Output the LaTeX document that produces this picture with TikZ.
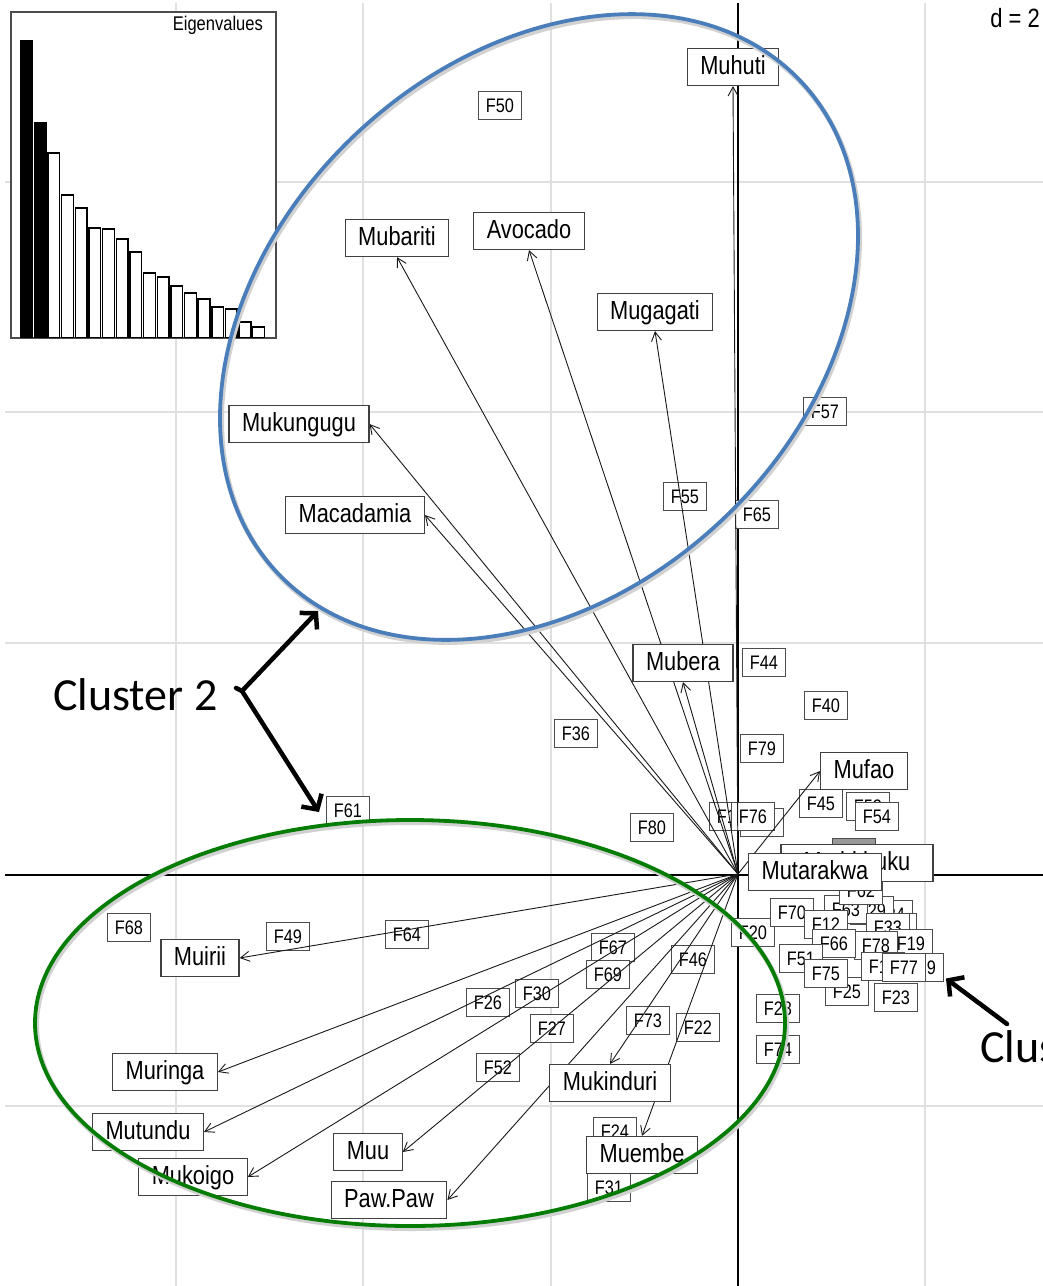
\documentclass[tikz,border=0pt]{standalone}
\usepackage{fontspec}
\setmainfont{Liberation Sans}
\newfontfamily\clfont{Carlito}
\usepackage{graphicx}
\usetikzlibrary{arrows.meta}
\pgfdeclarelayer{bg}
\pgfdeclarelayer{flab}
\pgfdeclarelayer{edges}
\pgfdeclarelayer{fg}
\pgfsetlayers{bg,flab,edges,main,fg}
\newcommand{\vsc}[1]{\scalebox{1}[1.2]{#1}}
\definecolor{ellblue}{RGB}{74,126,187}
\definecolor{ellgreen}{RGB}{5,125,5}
\tikzset{
 gridl/.style={draw=black!12, line width=1.4pt},
 axisl/.style={draw=black, line width=1.3pt},
 flab/.style={draw=black!70, fill=white, line width=1pt, font=\fontsize{16.3}{18}\selectfont, inner sep=0pt, minimum width=43pt, minimum height=28pt, text height=14pt, text depth=0pt},
 vlab/.style={draw=black!75, fill=white, line width=1.2pt, font=\fontsize{21.8}{24}\selectfont, inner xsep=13pt, inner ysep=0pt, minimum height=37pt, text height=19pt, text depth=5pt},
 varrow/.style={draw=black!90, line width=0.9pt, -{Straight Barb[length=9pt,width=10pt]}},
 ellshadow/.style={draw=black!18, line width=5pt},
 clarrow/.style={line width=4.5pt, line cap=round, line join=round},
 cltext/.style={font=\clfont\fontsize{46}{50}\selectfont, inner sep=0pt},
 eigbar/.style={draw=black, line width=1.4pt},
}
\begin{document}
\begin{tikzpicture}[x=1pt,y=-1pt]
\useasboundingbox (0,0) rectangle (1043,1286);
\begin{pgfonlayer}{bg}
\fill[white] (0,0) rectangle (1043,1286);
% grid
\foreach \gx in {176,363,551,925} \draw[gridl] (\gx,3) -- (\gx,1286);
\foreach \gy in {182,412,643,1106} \draw[gridl] (5,\gy) -- (1043,\gy);
% axes
\draw[axisl] (738,3) -- (738,1286);
\draw[axisl] (5,875) -- (1043,875);
% eigenvalue inset
\draw[draw=black!70, fill=white, line width=1.2pt] (11,12) rectangle (276,338);
\foreach \t [count=\i] in {41,123} {
  \pgfmathsetmacro\xl{20.7+(\i-1)*13.65}
  \draw[eigbar, fill=black] (\xl,337.5) rectangle ({\xl+11.7},\t);
}
\foreach \t [count=\i from 3] in {153,195,208,228,229,239,252,273,277,286,293,299,307,309,322,327} {
  \pgfmathsetmacro\xl{20.7+(\i-1)*13.65}
  \draw[eigbar, fill=white] (\xl,337.5) rectangle ({\xl+11.7},\t);
}
\node[anchor=base east, inner sep=0pt, font=\fontsize{16.5}{18}\selectfont] (eig) at (263,30) {\vsc{Eigenvalues}};
\node[anchor=base east, inner sep=0pt, font=\fontsize{22}{24}\selectfont] (dlab) at (1040,27) {\vsc{d = 2}};
\end{pgfonlayer}

\begin{pgfonlayer}{flab}
\node[flab] (f50) at (500,105) {\vsc{F50}};
\node[flab] (f57) at (825,411) {\vsc{F57}};
\node[flab] (f55) at (685,496) {\vsc{F55}};
\node[flab] (f65) at (757,514) {\vsc{F65}};
\node[flab] (f44) at (764,662) {\vsc{F44}};
\node[flab] (f40) at (826,705) {\vsc{F40}};
\node[flab] (f36) at (576,733) {\vsc{F36}};
\node[flab] (f79) at (762,748) {\vsc{F79}};
\node[flab] (f45) at (821,803) {\vsc{F45}};
\node[flab] (f53) at (868,806) {\vsc{F53}};
\node[flab] (f54) at (877,816) {\vsc{F54}};
\node[flab] (f18) at (731,816) {\vsc{F18}};
\node[flab] (fx1) at (762,822) {};
\node[flab] (f76) at (753,816) {\vsc{F76}};
\node[flab] (f80) at (652,827) {\vsc{F80}};
\node[flab] (f61) at (348,810) {\vsc{F61}};
\node[flab] (f68) at (129,927) {\vsc{F68}};
\node[flab] (f49) at (288,936) {\vsc{F49}};
\node[flab] (f64) at (407,934) {\vsc{F64}};
\node[flab] (f67) at (613,947) {\vsc{F67}};
\node[flab] (f69) at (608,974) {\vsc{F69}};
\node[flab] (f46) at (693,959) {\vsc{F46}};
\node[flab] (f26) at (488,1002) {\vsc{F26}};
\node[flab] (f30) at (537,993) {\vsc{F30}};
\node[flab] (f27) at (552,1028) {\vsc{F27}};
\node[flab] (f73) at (648,1020) {\vsc{F73}};
\node[flab] (f22) at (698,1027) {\vsc{F22}};
\node[flab] (f52) at (498,1067) {\vsc{F52}};
\node[flab] (f20) at (753,932) {\vsc{F20}};
\node[flab] (f28) at (778,1008) {\vsc{F28}};
\node[flab] (f74) at (778,1049) {\vsc{F74}};
\node[flab] (f24) at (615,1131) {\vsc{F24}};
\node[flab] (f31) at (609,1187) {\vsc{F31}};
% dense cluster
\node[flab, fill=black!40] (fx2) at (854,852) {};
\node[flab] (f34) at (891,914) {\vsc{F34}};
\node[flab] (f29) at (872,910) {\vsc{F29}};
\node[flab] (f63) at (846,909) {\vsc{F63}};
\node[flab] (fx3) at (895,927) {};
\node[flab] (f33) at (888,927) {\vsc{F33}};
\node[flab] (f62) at (861,890) {\vsc{F62}};
\node[flab] (f70) at (792,912) {\vsc{F70}};
\node[flab] (f12) at (826,924) {\vsc{F12}};
\node[flab] (f19) at (911,943) {\vsc{F19}};
\node[flab] (f78) at (876,945) {\vsc{F78}};
\node[flab] (f66) at (834,943) {\vsc{F66}};
\node[flab] (f51) at (801,958) {\vsc{F51}};
\node[flab] (f25) at (847,991) {\vsc{F25}};
\node[flab] (f15) at (883,966) {\vsc{F15}};
\node[flab] (f39) at (922,967) {\vsc{F39}};
\node[flab] (f77) at (904,967) {\vsc{F77}};
\node[flab] (f75) at (826,973) {\vsc{F75}};
\node[flab] (f23) at (896,997) {\vsc{F23}};
\end{pgfonlayer}

% variable labels
\coordinate (O) at (738,874);
\node[vlab] (muhuti) at (733,67) {\vsc{Muhuti}};
\node[vlab] (mubariti) at (397,238) {\vsc{Mubariti}};
\node[vlab] (avocado) at (529,231) {\vsc{Avocado}};
\node[vlab] (mugagati) at (655,312) {\vsc{Mugagati}};
\node[vlab] (mukungugu) at (299,424) {\vsc{Mukungugu}};
\node[vlab] (macadamia) at (355,515) {\vsc{Macadamia}};
\node[vlab] (mubera) at (683,663) {\vsc{Mubera}};
\node[vlab] (mufao) at (864,771) {\vsc{Mufao}};
\node[vlab, minimum width=152pt] (muthi) at (857,863) {\vsc{Muthithuku}};
\node[vlab] (mutarakwa) at (815,872) {\vsc{Mutarakwa}};
\node[vlab] (muirii) at (200,958) {\vsc{Muirii}};
\node[vlab] (muringa) at (165,1072) {\vsc{Muringa}};
\node[vlab] (mutundu) at (148,1132) {\vsc{Mutundu}};
\node[vlab] (mukoigo) at (193,1177) {\vsc{Mukoigo}};
\node[vlab] (muu) at (368,1152) {\vsc{Muu}};
\node[vlab] (pawpaw) at (389,1200) {\vsc{Paw.Paw}};
\node[vlab] (mukinduri) at (610,1083) {\vsc{Mukinduri}};
\node[vlab] (muembe) at (642,1155) {\vsc{Muembe}};

\begin{pgfonlayer}{edges}
\foreach \n/\a in {muhuti/south, mubariti/south, avocado/south, mugagati/south,
  mukungugu/east, macadamia/east, mubera/south, mufao/west, muirii/east,
  muringa/east, mutundu/east, mukoigo/east, muu/east, pawpaw/east,
  mukinduri/north, muembe/north}
  \draw[varrow] (O) -- (\n.\a);
\end{pgfonlayer}

\begin{pgfonlayer}{fg}
% cluster ellipses with soft shadow
\draw[ellshadow, rotate around={43.1:(540.5,329.5)}] (540.5,329.5) ellipse [x radius=359, y radius=266];
\draw[ellblue, line width=3.8pt, rotate around={43.1:(539,327)}] (539,327) ellipse [x radius=359, y radius=266];
\draw[ellshadow] (411.5,1025.5) ellipse [x radius=375, y radius=203];
\draw[ellgreen, line width=3.8pt] (410,1023) ellipse [x radius=375, y radius=203];
% annotations
\node[cltext, anchor=base west] (c2lab) at (53,710) {Cluster 2};
\coordinate (c2j) at (242,691);
\coordinate (c2a) at (318,611);
\coordinate (c2b) at (319,812);
\draw[clarrow] (236,688) -- (c2j);
\draw[clarrow, {Straight Barb[length=11pt,width=24pt]}-{Straight Barb[length=11pt,width=24pt]}] (c2a) -- (c2j) -- (c2b);
\node[cltext, anchor=base west] (c1lab) at (980,1062) {Cluster 1};
\coordinate (c1t) at (1007,1024);
\draw[clarrow, -{Straight Barb[length=11pt,width=24pt]}] (c1t) -- ([shift={(2,-3)}]f39.south east);
\end{pgfonlayer}
\end{tikzpicture}
\end{document}
